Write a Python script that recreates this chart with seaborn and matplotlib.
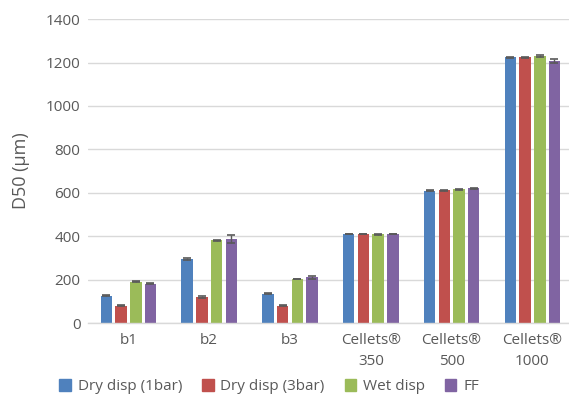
import matplotlib
matplotlib.use("Agg")
import matplotlib.pyplot as plt
import seaborn as sns
import pandas as pd
import numpy as np

categories = ["b1", "b2", "b3", "Cellets®\n350", "Cellets®\n500", "Cellets®\n1000"]
series = ["Dry disp (1bar)", "Dry disp (3bar)", "Wet disp", "FF"]
dry1 = [126, 295, 135, 410, 609, 1225]
dry3 = [80, 120, 80, 410, 612, 1224]
wet = [190, 381, 203, 408, 617, 1230]
ff = [181, 387, 210, 410, 620, 1208]
err_dry1 = [2, 3, 2, 2, 2, 2]
err_dry3 = [2, 4, 2, 2, 2, 2]
err_wet = [2, 2, 2, 2, 2, 3]
err_ff = [2, 18, 7, 2, 3, 9]
colors = ["#4F81BD", "#C0504D", "#9BBB59", "#8064A2"]

values = [dry1, dry3, wet, ff]
errors = [err_dry1, err_dry3, err_wet, err_ff]
rows = []
for s, vals in zip(series, values):
    for c, v in zip(categories, vals):
        rows.append({"cat": c, "series": s, "D50": v})
df = pd.DataFrame(rows)

sns.set_theme(style="white")
plt.rcParams["font.family"] = ["Open Sans", "DejaVu Sans"]

fig = plt.figure(figsize=(5.69, 4.03), dpi=100)
ax = fig.add_axes([0.1547, 0.1985, 0.852, 0.754])

sns.barplot(data=df, x="cat", y="D50", hue="series", palette=colors,
            order=categories, hue_order=series, width=0.728, saturation=1,
            errorbar=None, ax=ax, linewidth=0, legend=False)

# narrow each bar a little so a white gap separates neighbours,
# then hang the error bars on the bar centres
bar_groups = list(ax.containers)
for i, cont in enumerate(bar_groups):
    xs = []
    for p in cont.patches:
        w = p.get_width()
        gap = w * 0.11
        p.set_x(p.get_x() + gap)
        p.set_width(w - 2 * gap)
        xs.append(p.get_x() + p.get_width() / 2)
    ax.errorbar(xs, values[i], yerr=errors[i], fmt="none",
                ecolor="#595959", elinewidth=1.0, capsize=3, capthick=1.2, zorder=5)

ax.set_ylim(0, 1400)
ax.set_yticks(np.arange(0, 1401, 200))
ax.set_xlim(-0.5, len(categories) - 0.5)
ax.yaxis.grid(True, color="#d9d9d9", linewidth=1.0)
ax.set_axisbelow(True)
for side in ["left", "right", "top"]:
    ax.spines[side].set_visible(False)
ax.spines["bottom"].set_color("#d9d9d9")
ax.spines["bottom"].set_linewidth(1.0)
ax.tick_params(axis="both", length=0, labelsize=11, colors="#595959")
ax.tick_params(axis="y", pad=5.5)
ax.tick_params(axis="x", pad=7)
for lbl in ax.get_xticklabels():
    lbl.set_linespacing(1.6)
ax.set_xlabel("")
ax.set_ylabel("D50 (µm)", fontsize=13, color="#595959", labelpad=11)

handles = [plt.Rectangle((0, 0), 1, 1, color=c) for c in colors]
leg = fig.legend(handles, series, loc="center", bbox_to_anchor=(0.473, 0.04),
                 ncol=4, frameon=False, fontsize=11, handlelength=0.75,
                 handleheight=0.75, columnspacing=1.3, handletextpad=0.45)
for t in leg.get_texts():
    t.set_color("#595959")

fig.savefig("out.png", dpi=100)
